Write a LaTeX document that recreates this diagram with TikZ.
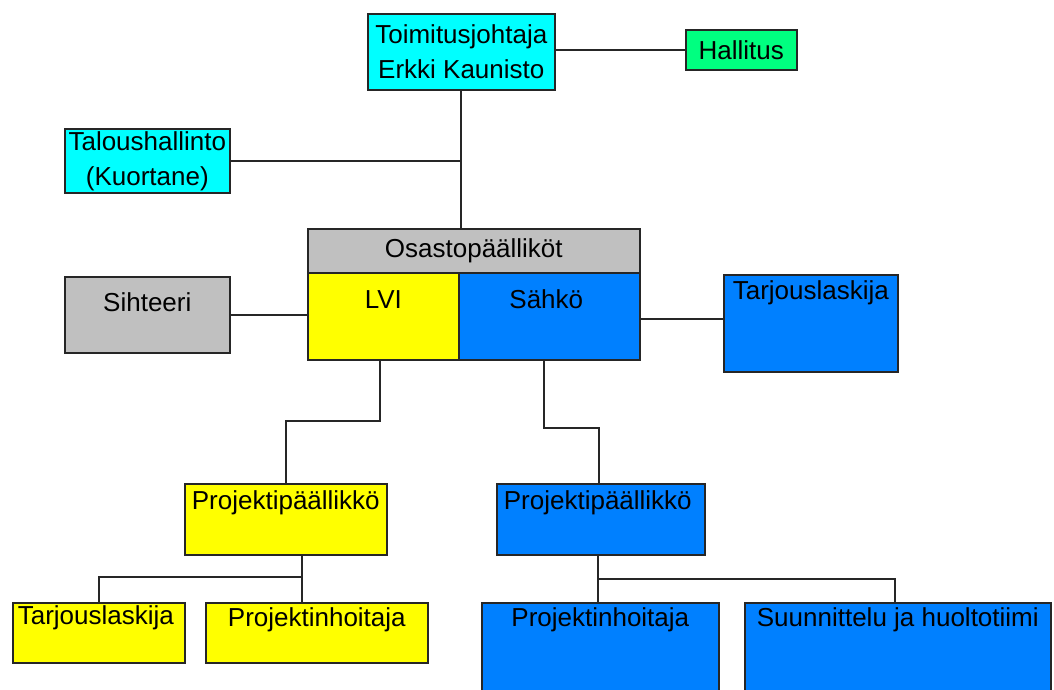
\documentclass[tikz,border=0pt]{standalone}
\usepackage{fontspec}
\setmainfont{Liberation Sans}
\usetikzlibrary{positioning}
\definecolor{cyanbox}{RGB}{0,255,255}
\definecolor{greenbox}{RGB}{0,255,128}
\definecolor{graybox}{RGB}{192,192,192}
\definecolor{yellowbox}{RGB}{255,255,0}
\definecolor{bluebox}{RGB}{0,128,255}
\begin{document}
\begin{tikzpicture}[x=1pt,y=-1pt,
  org box/.style={rectangle,draw=black!85,line width=1.6pt,inner sep=0pt,anchor=north west,
    font=\fontsize{26}{35}\selectfont,align=center},
  box text/.style={inner sep=0pt,text height=19pt,text depth=5pt,font=\fontsize{26}{35}\selectfont},
  link/.style={draw=black!85,line width=1.8pt}]

  \useasboundingbox (0,0) rectangle (1054,689);
  \clip (0,0) rectangle (1054,689);

  \node[org box,fill=cyanbox,minimum width=187pt,minimum height=76pt] (tj) at (367,13)
    {Toimitusjohtaja\\Erkki Kaunisto};
  \node[org box,fill=greenbox,minimum width=111pt,minimum height=40pt] (hallitus) at (685,29) {Hallitus};
  \node[org box,fill=cyanbox,minimum width=165pt,minimum height=64pt] (talous) at (64,128)
    {Taloushallinto\\(Kuortane)};
  \node[org box,fill=graybox,minimum width=332pt,minimum height=44pt] (osasto) at (307,228) {Osastopäälliköt};
  \node[org box,fill=yellowbox,minimum width=151pt,minimum height=87pt] (lvi) at (307,272) {};
  \node[org box,fill=bluebox,minimum width=181pt,minimum height=87pt] (sahko) at (458,272) {};
  \node[org box,fill=graybox,minimum width=165pt,minimum height=76pt] (sihteeri) at (64,276) {};
  \node[org box,fill=bluebox,minimum width=174pt,minimum height=97pt] (tarj1) at (723,274) {};
  \node[org box,fill=yellowbox,minimum width=202pt,minimum height=71pt] (ppl) at (184,483) {};
  \node[org box,fill=bluebox,minimum width=208pt,minimum height=71pt] (ppb) at (496,483) {};
  \node[org box,fill=yellowbox,minimum width=172pt,minimum height=60pt] (tarj2) at (12,602) {};
  \node[org box,fill=yellowbox,minimum width=222pt,minimum height=60pt] (proj1) at (205,602) {};
  \node[org box,fill=bluebox,minimum width=237pt,minimum height=100pt] (proj2) at (481,602) {};
  \node[org box,fill=bluebox,minimum width=306pt,minimum height=100pt] (suun) at (744,602) {};

  \node[box text,below=17.3pt of lvi.north] (lvit) {LVI};
  \node[box text,below=17.3pt of sahko.north,xshift=-3pt] (sahkot) {Sähkö};
  \node[box text,below=16.3pt of sihteeri.north] (sihteerit) {Sihteeri};
  \node[box text,below=6.3pt of tarj1.north] (tarj1t) {Tarjouslaskija};
  \node[box text,below=7.3pt of ppl.north] (pplt) {Projektipäällikkö};
  \node[box text,below=7.3pt of ppb.north,xshift=-3pt] (ppbt) {Projektipäällikkö};
  \node[box text,below=3.3pt of tarj2.north,xshift=-3pt] (tarj2t) {Tarjouslaskija};
  \node[box text,below=5.3pt of proj1.north] (proj1t) {Projektinhoitaja};
  \node[box text,below=5.3pt of proj2.north] (proj2t) {Projektinhoitaja};
  \node[box text,below=5.3pt of suun.north] (suunt) {Suunnittelu ja huoltotiimi};

  \coordinate (pplfork) at (302,577);
  \coordinate (ppbfork) at (598,579);

  \path[link]
   (tj.east |- hallitus.west) -- (hallitus.west)
   (tj.south) -- (tj.south |- osasto.north)
   (talous.east) -- (talous.east -| tj.south)
   (sihteeri.east) -- (sihteeri.east -| lvi.west)
   ([yshift=4.5pt]tarj1.west) -- ([yshift=4.5pt]tarj1.west -| sahko.east)
   ([xshift=-3pt]lvi.south) -- ++(0,60) -| (ppl.north)
   ([xshift=-5pt]sahko.south) -- ++(0,67) -| ([xshift=-2pt]ppb.north)
   (ppl.south -| pplfork) -- (pplfork) -| (tarj2.north)
   (pplfork) -- (pplfork |- proj1.north)
   (ppb.south -| ppbfork) -- (ppbfork) -- (ppbfork |- proj2.north)
   (ppbfork) -| ([xshift=-3pt]suun.north);
\end{tikzpicture}
\end{document}
